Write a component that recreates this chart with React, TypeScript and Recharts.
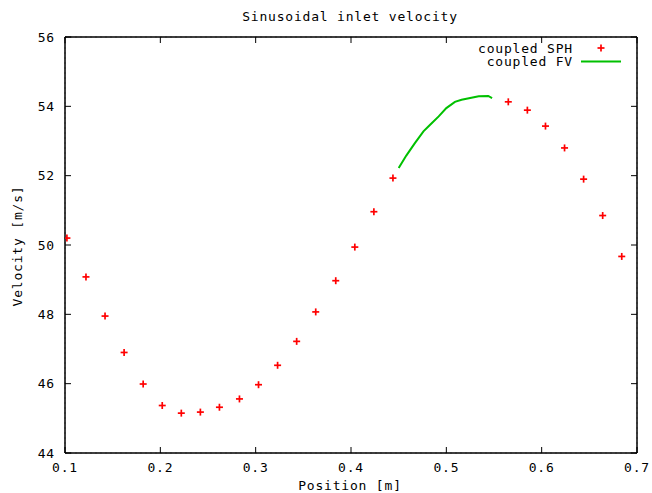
import React from 'react';
import { ComposedChart, Scatter, XAxis, YAxis, CartesianGrid, ReferenceArea } from 'recharts';

// SPH particle velocities
const sphPosition = [
  0.102, 0.122, 0.142, 0.162, 0.182, 0.202, 0.222, 0.242, 0.262, 0.283,
  0.303, 0.323, 0.343, 0.363, 0.384, 0.404, 0.424, 0.444,
  0.565, 0.585, 0.604, 0.624, 0.644, 0.664, 0.684,
];
const sphVelocity = [
  50.20, 49.08, 47.95, 46.90, 45.99, 45.37, 45.15, 45.18, 45.32, 45.56,
  45.97, 46.53, 47.22, 48.07, 48.97, 49.94, 50.96, 51.93,
  54.13, 53.89, 53.43, 52.80, 51.90, 50.85, 49.67,
];

// finite volume profile
const fvPosition = [0.450, 0.458, 0.467, 0.476, 0.483, 0.492, 0.500, 0.509, 0.516, 0.525, 0.534, 0.544, 0.548];
const fvVelocity = [52.22, 52.58, 52.94, 53.28, 53.47, 53.71, 53.95, 54.13, 54.19, 54.24, 54.29, 54.30, 54.24];

const xTicks = [0.1, 0.2, 0.3, 0.4, 0.5, 0.6, 0.7];
const yTicks = [44, 46, 48, 50, 52, 54, 56];

const sphData = sphPosition.map((x, i) => ({ x, y: sphVelocity[i] }));
const fvData = fvPosition.map((x, i) => ({ x, y: fvVelocity[i] }));

const FONT = '"DejaVu Sans Mono", monospace';
const tickStyle = { fontFamily: FONT, fontSize: 13, fill: '#000', letterSpacing: 0.8 };
const textStyle: React.CSSProperties = { fontFamily: FONT, fontSize: 13, letterSpacing: 0.8, lineHeight: '13px', color: '#000' };

const PlusMarker = (props: any) => {
  const { cx, cy } = props;
  if (cx == null || cy == null) return null;
  return (
    <g stroke="#ff0000" strokeWidth={1.7}>
      <line x1={cx - 3.5} y1={cy} x2={cx + 3.5} y2={cy} />
      <line x1={cx} y1={cy - 3.5} x2={cx} y2={cy + 3.5} />
    </g>
  );
};

const KeyBox = () => (
  <div style={{ ...textStyle, position: 'absolute', left: 433, top: 42, width: 188 }}>
    <div style={{ display: 'flex', alignItems: 'center', height: 13 }}>
      <span style={{ width: 140, textAlign: 'right' }}>coupled SPH</span>
      <svg width={48} height={13}>
        <line x1={24.5} y1={6} x2={31.5} y2={6} stroke="#ff0000" strokeWidth={1.7} />
        <line x1={28} y1={2.5} x2={28} y2={9.5} stroke="#ff0000" strokeWidth={1.7} />
      </svg>
    </div>
    <div style={{ display: 'flex', alignItems: 'center', height: 13 }}>
      <span style={{ width: 140, textAlign: 'right' }}>coupled FV</span>
      <svg width={48} height={13}>
        <line x1={8} y1={6.5} x2={48} y2={6.5} stroke="#00c000" strokeWidth={2} />
      </svg>
    </div>
  </div>
);

const App: React.FC = () => {
  return (
    <div style={{ position: 'absolute', left: 0, top: 0, width: 652, height: 493, background: '#fff' }}>
      <div style={{ ...textStyle, position: 'absolute', left: 0, top: 10, width: 700, textAlign: 'center' }}>
        Sinusoidal inlet velocity
      </div>
      <ComposedChart width={652} height={493} margin={{ top: 36, right: 14, left: 0, bottom: 0 }}>
        <CartesianGrid stroke="#a0a0a0" strokeDasharray="2 3" />
        <XAxis
          xAxisId="bottom" dataKey="x" type="number" domain={[0.1, 0.7]} ticks={xTicks}
          height={40} tickSize={-6} tickMargin={16} tick={tickStyle}
          axisLine={{ stroke: '#000' }} tickLine={{ stroke: '#000' }}
          allowDataOverflow
        />
        <XAxis
          xAxisId="top" orientation="top" dataKey="x" type="number" domain={[0.1, 0.7]} ticks={xTicks}
          height={1} tickSize={-6} tickFormatter={() => ''}
          axisLine={{ stroke: '#000' }} tickLine={{ stroke: '#000' }}
          allowDataOverflow
        />
        <YAxis
          yAxisId="left" dataKey="y" type="number" domain={[44, 56]} ticks={yTicks}
          width={65} tickSize={-6} tickMargin={16} tick={tickStyle}
          axisLine={{ stroke: '#000' }} tickLine={{ stroke: '#000' }}
          allowDataOverflow
        />
        <YAxis
          yAxisId="right" orientation="right" dataKey="y" type="number" domain={[44, 56]} ticks={yTicks}
          width={1} tickSize={-6} tickFormatter={() => ''}
          axisLine={{ stroke: '#000' }} tickLine={{ stroke: '#000' }}
          allowDataOverflow
        />
        <ReferenceArea
          xAxisId="bottom" yAxisId="left" x1={0.1} x2={0.7} y1={44} y2={56}
          fill="none" stroke="#000" strokeWidth={1} ifOverflow="visible"
        />
        <Scatter
          name="coupled SPH" data={sphData} xAxisId="bottom" yAxisId="left"
          shape={<PlusMarker />} isAnimationActive={false}
        />
        <Scatter
          name="coupled FV" data={fvData} xAxisId="bottom" yAxisId="left"
          line={{ stroke: '#00c000', strokeWidth: 2 }} shape={() => null} isAnimationActive={false}
        />
        {/* invisible copy so the mirror axes get drawn */}
        <Scatter data={sphData} xAxisId="top" yAxisId="right" shape={() => null} isAnimationActive={false} />
      </ComposedChart>
      <KeyBox />
      <div style={{ ...textStyle, position: 'absolute', left: 0, top: 479, width: 700, textAlign: 'center' }}>
        Position [m]
      </div>
      <div
        style={{
          ...textStyle, position: 'absolute', left: 17, top: 246,
          transform: 'translate(-50%, -50%) rotate(-90deg)', whiteSpace: 'nowrap',
        }}
      >
        Velocity [m/s]
      </div>
    </div>
  );
};

export default App;
